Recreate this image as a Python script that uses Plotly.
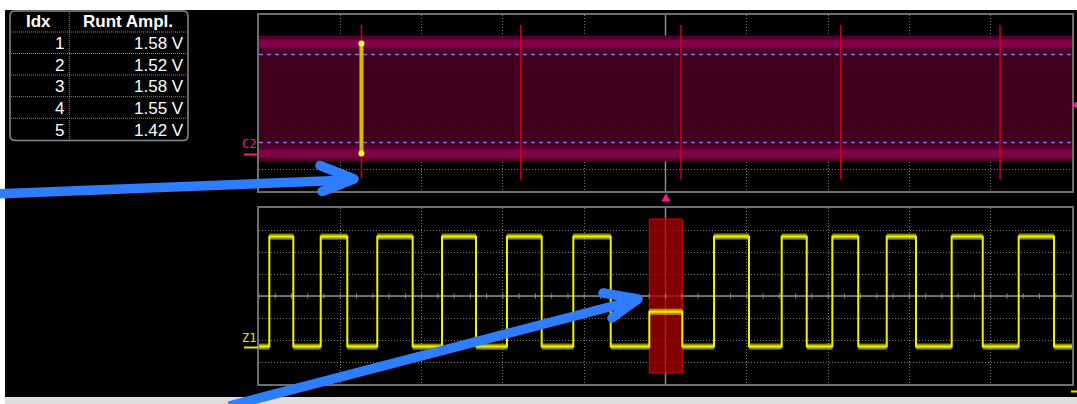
import plotly.graph_objects as go

W, H = 1077, 404

# ---------------- measurement table ----------------
runt_idx = [1, 2, 3, 4, 5]
runt_ampl_v = [1.58, 1.52, 1.58, 1.55, 1.42]
table_header = ["Idx", "Runt Ampl."]

# ---------------- C2 acquisition (upper grid) ----------------
c2_high_v = 5.0
c2_low_v = 0.0
thresh_upper_v = 4.5
thresh_lower_v = 0.5
runt_times_div = [-3.74, -1.78, 0.19, 2.155, 4.115]
selected_runt = 0

# ---------------- Z1 zoom trace (lower grid) ----------------
z1_edge_t = [-4.873, -4.578, -4.241, -3.914, -3.545, -3.110, -2.749, -2.331,
             -1.950, -1.523, -1.134, -0.674, -0.199, 0.207, 0.597, 1.027,
             1.429, 1.737, 2.052, 2.371, 2.721, 3.081, 3.520, 3.902,
             4.344, 4.779]
z1_state = ["hi", "lo", "hi", "lo", "hi", "lo", "hi", "lo", "hi", "lo",
            "hi", "lo", "runt", "lo", "hi", "lo", "hi", "lo", "hi", "lo",
            "hi", "lo", "hi", "lo", "hi", "lo"]
z1_start_state = "lo"

# grid geometry (divisions)
X_RANGE = [-5, 5]
Y_RANGE = [-1.7, 6.3]          # 1 V/div, 8 divisions
Y_CENTER = 2.3


def X(px):
    return px / W


def Y(py):
    return 1 - py / H


level_of = {"hi": c2_high_v, "lo": c2_low_v,
            "runt": c2_low_v + runt_ampl_v[selected_runt]}

fig = go.Figure()

# ---------- upper grid: compressed C2 record ----------
fig.add_trace(go.Scatter(x=X_RANGE, y=[c2_low_v] * 2, mode="lines",
                         line=dict(width=0, color="#3e001e"),
                         xaxis="x", yaxis="y", hoverinfo="skip"))
fig.add_trace(go.Scatter(x=X_RANGE, y=[c2_high_v] * 2, mode="lines",
                         line=dict(width=0, color="#3e001e"), fill="tonexty",
                         fillcolor="#42001f", xaxis="x", yaxis="y",
                         hoverinfo="skip"))
for lv in (c2_high_v, c2_low_v):
    fig.add_trace(go.Scatter(x=X_RANGE, y=[lv] * 2, mode="lines",
                             line=dict(width=16, color="#55002c"),
                             xaxis="x", yaxis="y", hoverinfo="skip"))
    fig.add_trace(go.Scatter(x=X_RANGE, y=[lv] * 2, mode="lines",
                             line=dict(width=8, color="#82004a"),
                             xaxis="x", yaxis="y", hoverinfo="skip"))
for lv in (thresh_upper_v, thresh_lower_v):
    fig.add_trace(go.Scatter(x=X_RANGE, y=[lv] * 2, mode="lines",
                             line=dict(width=1.5, color="#7a6cf0", dash="4px,4px"),
                             xaxis="x", yaxis="y", hoverinfo="skip"))

# runt event markers
mk_x, mk_y = [], []
for t in runt_times_div:
    mk_x += [t, t, None]
    mk_y += [-1.15, 5.85, None]
fig.add_trace(go.Scatter(x=mk_x, y=mk_y, mode="lines",
                         line=dict(width=1.5, color="#c8001e"),
                         xaxis="x", yaxis="y", hoverinfo="skip"))
ts = runt_times_div[selected_runt]
fig.add_trace(go.Scatter(x=[ts, ts], y=[c2_low_v, c2_high_v], mode="lines+markers",
                         line=dict(width=4, color="#d8b800"),
                         marker=dict(size=6, color="#ffff3c"),
                         xaxis="x", yaxis="y", hoverinfo="skip"))

# ---------- lower grid: Z1 zoom ----------
zx, zy = [X_RANGE[0]], [level_of[z1_start_state]]
prev = level_of[z1_start_state]
seg_x, seg_y = [], []
seg_start = X_RANGE[0]
for t, st in zip(z1_edge_t, z1_state):
    lv = level_of[st]
    seg_x += [seg_start, t, None]
    seg_y += [prev, prev, None]
    zx += [t, t]
    zy += [prev, lv]
    prev = lv
    seg_start = t
zx.append(X_RANGE[1])
zy.append(prev)
seg_x += [seg_start, X_RANGE[1], None]
seg_y += [prev, prev, None]

# minor ticks on the centre horizontal axis
tick_x, tick_y = [], []
for k in range(-25, 26):
    t = k * 0.2
    tick_x += [t, t, None]
    tick_y += [Y_CENTER - 0.12, Y_CENTER + 0.12, None]
fig.add_trace(go.Scatter(x=tick_x, y=tick_y, mode="lines",
                         line=dict(width=1, color="#8c8c8c"),
                         xaxis="x2", yaxis="y2", hoverinfo="skip"))

fig.add_trace(go.Scatter(x=seg_x, y=seg_y, mode="lines",
                         line=dict(width=6, color="rgba(255,255,0,0.55)"),
                         xaxis="x2", yaxis="y2", hoverinfo="skip"))
fig.add_trace(go.Scatter(x=zx, y=zy, mode="lines",
                         line=dict(width=2, color="#f2f200"),
                         xaxis="x2", yaxis="y2", hoverinfo="skip"))

axis_common = dict(showticklabels=False, zeroline=False, showline=True,
                   mirror=True, linecolor="#6e6e6e", linewidth=2,
                   showgrid=True, gridcolor="#7a7a7a", gridwidth=1,
                   griddash="1px,2px", ticks="", fixedrange=True)

fig.update_layout(
    width=W, height=H,
    margin=dict(l=0, r=0, t=0, b=0),
    paper_bgcolor="white",
    plot_bgcolor="rgba(0,0,0,0)",
    showlegend=False,
    xaxis=dict(domain=[X(259), X(1072)], range=X_RANGE, dtick=1, tick0=0,
               anchor="y", **axis_common),
    yaxis=dict(domain=[Y(191), Y(15)], range=Y_RANGE, dtick=1, tick0=Y_RANGE[0],
               anchor="x", **axis_common),
    xaxis2=dict(domain=[X(259), X(1072)], range=X_RANGE, dtick=1, tick0=0,
                anchor="y2", **axis_common),
    yaxis2=dict(domain=[Y(384), Y(208)], range=Y_RANGE, dtick=1, tick0=Y_RANGE[0],
                anchor="x2", **axis_common),
)

shapes = []
# screen background and its drop shadow
shapes.append(dict(type="rect", xref="paper", yref="paper", layer="below",
                   x0=X(5), x1=X(1077), y0=Y(404), y1=Y(396),
                   fillcolor="#dedede", line=dict(width=0)))
shapes.append(dict(type="rect", xref="paper", yref="paper", layer="below",
                   x0=X(5), x1=X(1077), y0=Y(397), y1=Y(10),
                   fillcolor="black", line=dict(width=0)))

# centre cross-hair lines
for xr, yr in (("x", "y"), ("x2", "y2")):
    shapes.append(dict(type="line", xref=xr, yref=yr, layer="between",
                       x0=0, x1=0, y0=Y_RANGE[0], y1=Y_RANGE[1],
                       line=dict(color="#8c8c8c", width=1.5)))
shapes.append(dict(type="line", xref="x2", yref="y2", layer="between",
                   x0=X_RANGE[0], x1=X_RANGE[1], y0=Y_CENTER, y1=Y_CENTER,
                   line=dict(color="#8c8c8c", width=1.5)))

# highlighted runt window in the zoom
ri = z1_state.index("runt")
shapes.append(dict(type="rect", xref="x2", yref="y2", layer="between",
                   x0=z1_edge_t[ri], x1=z1_edge_t[ri + 1], y0=-1.2, y1=5.8,
                   fillcolor="rgba(170,0,0,0.76)",
                   line=dict(color="#e00000", width=1)))

# channel / zoom offset markers
shapes.append(dict(type="line", xref="paper", yref="paper",
                   x0=X(244), x1=X(258), y0=Y(154.5), y1=Y(154.5),
                   line=dict(color="#ff1a8c", width=2)))
shapes.append(dict(type="line", xref="paper", yref="paper",
                   x0=X(244), x1=X(258), y0=Y(347.5), y1=Y(347.5),
                   line=dict(color="#e6e600", width=2)))
shapes.append(dict(type="path", xref="paper", yref="paper",
                   path=f"M {X(661.5)} {Y(201.5)} L {X(670.5)} {Y(201.5)} L {X(666)} {Y(193)} Z",
                   fillcolor="#ff1a8c", line=dict(width=0)))
shapes.append(dict(type="path", xref="paper", yref="paper",
                   path=f"M {X(1072)} {Y(105)} L {X(1076)} {Y(102)} L {X(1077)} {Y(102)} L {X(1077)} {Y(108)} L {X(1076)} {Y(108)} Z",
                   fillcolor="#ff1a8c", line=dict(width=0)))
shapes.append(dict(type="line", xref="paper", yref="paper",
                   x0=X(1071), x1=X(1077), y0=Y(391.5), y1=Y(391.5),
                   line=dict(color="#e6e600", width=2)))

# measurement table frame
tx0, tx1, ty0, ty1, r = 10, 188, 11, 140.5, 5
shapes.append(dict(
    type="path", xref="paper", yref="paper",
    path=(f"M {X(tx0 + r)} {Y(ty0)} L {X(tx1 - r)} {Y(ty0)} "
          f"Q {X(tx1)} {Y(ty0)} {X(tx1)} {Y(ty0 + r)} L {X(tx1)} {Y(ty1 - r)} "
          f"Q {X(tx1)} {Y(ty1)} {X(tx1 - r)} {Y(ty1)} L {X(tx0 + r)} {Y(ty1)} "
          f"Q {X(tx0)} {Y(ty1)} {X(tx0)} {Y(ty1 - r)} L {X(tx0)} {Y(ty0 + r)} "
          f"Q {X(tx0)} {Y(ty0)} {X(tx0 + r)} {Y(ty0)} Z"),
    fillcolor="black", line=dict(color="#8a8a8a", width=1.5)))
row_lines = [32, 53.5, 75, 96.7, 118.3]
for yl in row_lines:
    shapes.append(dict(type="line", xref="paper", yref="paper",
                       x0=X(tx0 + 1), x1=X(tx1 - 1), y0=Y(yl), y1=Y(yl),
                       line=dict(color="#8a8a8a", width=1, dash="1px,1px")))
shapes.append(dict(type="line", xref="paper", yref="paper",
                   x0=X(69.3), x1=X(69.3), y0=Y(ty0 + 1), y1=Y(ty1 - 1),
                   line=dict(color="#8a8a8a", width=1, dash="1px,1px")))

# callout arrows
BLUE = "#2f7dff"
AW = 9.5
arrow_lines = [
    ((-5, 194.0), (350, 180.0)),
    ((320, 165.5), (354, 179)),
    ((322, 191.5), (354, 179)),
    ((229, 406), (636, 300)),
    ((603, 293), (638, 299)),
    ((612, 318), (638, 299)),
]
for (ax0, ay0), (ax1, ay1) in arrow_lines:
    shapes.append(dict(type="line", xref="paper", yref="paper",
                       x0=X(ax0), y0=Y(ay0), x1=X(ax1), y1=Y(ay1),
                       line=dict(color=BLUE, width=AW)))
for cx, cy in [(320, 165.5), (322, 191.5), (354, 179), (603, 293), (612, 318), (638, 299)]:
    rr = AW / 2
    shapes.append(dict(type="circle", xref="paper", yref="paper",
                       x0=X(cx - rr), x1=X(cx + rr), y0=Y(cy + rr), y1=Y(cy - rr),
                       fillcolor=BLUE, line=dict(width=0)))

fig.update_layout(shapes=shapes)

# ---------- text ----------
TFONT = "Liberation Sans Narrow, Liberation Sans, Arial"
TSIZE = 17
ann = []
ann.append(dict(x=X(38.7), y=Y(21.5), xref="paper", yref="paper",
                text=f"<b>{table_header[0]}</b>", showarrow=False,
                xanchor="center", yanchor="middle",
                font=dict(family=TFONT, size=TSIZE, color="white")))
ann.append(dict(x=X(127.5), y=Y(21.5), xref="paper", yref="paper",
                text=f"<b>{table_header[1]}</b>", showarrow=False,
                xanchor="center", yanchor="middle",
                font=dict(family=TFONT, size=TSIZE, color="white")))
row_centers = [43.5, 65, 86.5, 108, 130]
for yc, i, v in zip(row_centers, runt_idx, runt_ampl_v):
    ann.append(dict(x=X(66), y=Y(yc), xref="paper", yref="paper",
                    text=str(i), showarrow=False, xanchor="right", yanchor="middle",
                    font=dict(family=TFONT, size=TSIZE, color="white")))
    ann.append(dict(x=X(186), y=Y(yc), xref="paper", yref="paper",
                    text=f"{v:.2f} V", showarrow=False, xanchor="right",
                    yanchor="middle",
                    font=dict(family=TFONT, size=TSIZE, color="white")))
ann.append(dict(x=X(249), y=Y(144), xref="paper", yref="paper", text="C2",
                showarrow=False, xanchor="center", yanchor="middle",
                font=dict(family="DejaVu Sans Mono", size=12, color="#ff1a8c")))
ann.append(dict(x=X(249), y=Y(338), xref="paper", yref="paper", text="Z1",
                showarrow=False, xanchor="center", yanchor="middle",
                font=dict(family="DejaVu Sans Mono", size=12, color="#e6e600")))
fig.update_layout(annotations=ann)

fig.write_html("out.html")
